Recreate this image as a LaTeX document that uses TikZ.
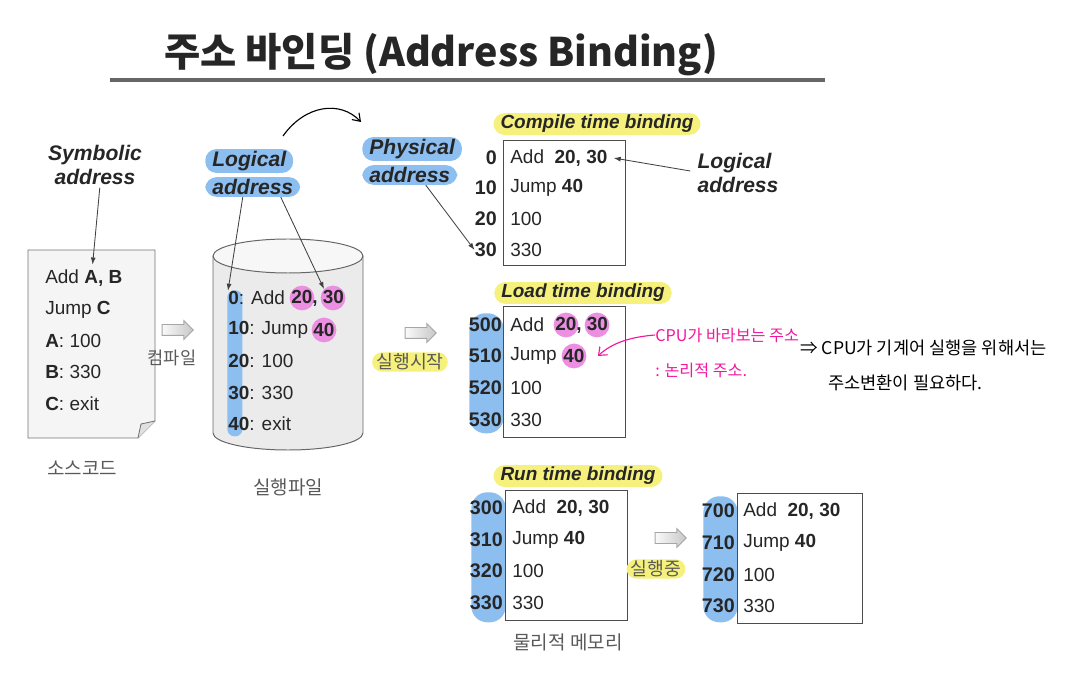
\documentclass[tikz,border=0pt]{standalone}
\usepackage{fontspec}
\setmainfont{Liberation Sans}
\newfontfamily\kr{Noto Sans CJK KR}
\usetikzlibrary{arrows.meta,positioning,shapes.arrows}

\definecolor{tagblue}{HTML}{8DBEF0}
\definecolor{tagyellow}{HTML}{F5F17C}
\definecolor{dotpink}{HTML}{EC8FE2}
\definecolor{penpink}{HTML}{F2169E}
\definecolor{inkgray}{HTML}{262626}

\tikzset{
  code/.style={anchor=west, inner sep=0pt, text=inkgray, font=\fontsize{13.5}{16}\selectfont},
  num/.style={anchor=east, inner sep=0pt, text=inkgray, font=\fontsize{14}{16}\selectfont\bfseries},
  tag/.style={inner xsep=5pt, inner ysep=1.5pt, rounded corners=8pt, text=inkgray, font=\fontsize{15}{17.7}\selectfont\bfseries\itshape},
  bluetag/.style={tag, fill=tagblue, anchor=west},
  bindtag/.style={tag, fill=tagyellow, font=\fontsize{13.5}{16}\selectfont\bfseries\itshape},
  krlabel/.style={text=black!65, font=\kr\fontsize{13.5}{16}\selectfont},
  krtag/.style={text=black!65, font=\kr\fontsize{13}{16}\selectfont, fill=tagyellow, rounded corners=7pt, inner xsep=3pt, inner ysep=1pt},
  pinkdot/.style={circle, fill=dotpink, inner sep=0pt, minimum size=0.62cm},
  membox/.style={draw=black!70, line width=0.7pt, anchor=north west, minimum width=3.05cm, minimum height=3.15cm, inner sep=0pt},
  bar/.style={fill=tagblue, anchor=north east, rounded corners=0.4cm, minimum width=0.86cm, inner sep=0pt},
  hollow/.style={single arrow, draw=black!35, line width=0.6pt, left color=black!2, right color=black!22, minimum height=0.78cm, single arrow head extend=0.1cm, single arrow head indent=0cm, inner sep=0pt},
  pointer/.style={draw=black!75, line width=0.6pt, -{Latex[length=5pt,width=3.5pt]}},
  hand/.style={inner sep=0pt, font=\kr\fontsize{12.5}{15}\selectfont}
}

\begin{document}
\begin{tikzpicture}[x=0.025cm, y=-0.025cm]
  \useasboundingbox (0,0) rectangle (1077,674);

  % title and rule
  \node[font=\kr\bfseries\fontsize{28}{32}\selectfont, text=black!85] (title) at (441,55) {주소 바인딩 (Address Binding)};
  \draw[line width=2.6pt, black!60] (110,80) -- (825,80);

  % source code page
  \filldraw[draw=black!55, fill=black!4, line width=0.6pt] (28,250) -- (155,250) -- (155,421) -- (138,438) -- (28,438) -- cycle;
  \filldraw[draw=black!55, fill=black!12, line width=0.6pt] (138,438) -- (141,424) -- (155,421);
  \node[tag, align=center] (sym) at (95,165) {Symbolic\\address};
  \node[code] (s1) at (45,278) {Add \textbf{A, B}};
  \node[code] (s2) at (45,310) {Jump \textbf{C}};
  \node[code] (s3) at (45,341) {\textbf{A}: 100};
  \node[code] (s4) at (45,372) {\textbf{B}: 330};
  \node[code] (s5) at (45,404) {\textbf{C}: exit};
  \draw[pointer] ([xshift=0.12cm]sym.south) -- ([xshift=0.22cm,yshift=0.12cm]s1.north);
  \node[krlabel] (srcname) at (82,468) {소스코드};

  \node[hollow] (h1) at (175,330) {\rule{0pt}{0.25cm}};
  \node[krlabel, font=\kr\fontsize{12.5}{15}\selectfont] (compile) at (172,358) {컴파일};

  % executable file (cylinder)
  \fill[black!8] (213,256) -- (213,433) arc[start angle=180, end angle=0, x radius=75, y radius=17] -- (363,256) -- cycle;
  \fill[black!3] (288,256) ellipse [x radius=75, y radius=17];
  \draw[black!60, line width=0.7pt] (213,256) -- (213,433) arc[start angle=180, end angle=0, x radius=75, y radius=17] -- (363,256);
  \draw[black!60, line width=0.7pt] (288,256) ellipse [x radius=75, y radius=17];
  \node[fill=tagblue, rounded corners=0.18cm, minimum width=0.38cm, minimum height=3.65cm, inner sep=0pt, anchor=north west] (ebar) at (227,290) {};
  \node[pinkdot] (e20) at (302,298) {};
  \node[pinkdot] (e30) at (333,298) {};
  \node[pinkdot] (e40) at (324,330) {};
  \node[code] (e0) at (228,298) {\textbf{0}: Add};
  \node[code] (e0v) at (291,298) {\textbf{20, 30}};
  \node[code] (e1) at (228,330) {\textbf{10}: Jump};
  \node[code] (e1v) at (313,330) {\textbf{40}};
  \node[code] (e2) at (228,361) {\textbf{20}: 100};
  \node[code] (e3) at (228,393) {\textbf{30}: 330};
  \node[code] (e4) at (228,424) {\textbf{40}: exit};
  \node[krlabel] (exename) at (288,487) {실행파일};

  \node[bluetag] (lt1) at (205,161) {Logical};
  \node[bluetag] (lt2) at (205,187) {address};
  \draw[pointer] ([xshift=-0.25cm]lt2.south) -- (e0.north west);
  \draw[pointer] ([xshift=0.7cm]lt2.south) -- (e30.north west);

  \coordinate (arcstart) at (283,136);
  \coordinate (arcend) at (361,122);
  \draw[line width=0.8pt, -{Straight Barb[length=5pt,width=7pt]}] (arcstart) .. controls (305,105) and (340,100) .. (arcend);

  \node[bluetag] (pt1) at (362,149) {Physical};
  \node[bluetag] (pt2) at (362,175) {address};

  \node[hollow] (h2) at (418,333) {\rule{0pt}{0.25cm}};
  \node[krtag] (run) at (410,362) {실행시작};

  % compile time binding
  \node[bindtag] (ctb) at (597,124) {Compile time binding};
  \node[membox, minimum height=3.12cm] (cbox) at (503,140) {};
  \foreach \y/\n/\t [count=\i] in {158/0/{Add\ \ \textbf{20, 30}},188/10/{Jump \textbf{40}},219/20/100,250/30/330}{
    \node[num] (ca\i) at (497,\y) {\n};
    \node[code] (cr\i) at (510,\y) {\t};
  }
  \draw[pointer] ([xshift=0.4cm]pt2.south) -- (ca4.west);
  \node[tag, align=left] (rlog) at (738,173) {Logical\\address};
  \draw[pointer] ([yshift=0.05cm]rlog.west) -- ([xshift=0.15cm]cr1.east);

  % load time binding
  \node[bindtag] (ltb) at (583,293) {Load time binding};
  \node[bar, minimum height=3.0cm] (lbar) at (504,313) {};
  \node[membox, minimum height=3.27cm] (lbox) at (503,306) {};
  \node[pinkdot] (l20) at (566,325) {};
  \node[pinkdot] (l30) at (597,325) {};
  \node[pinkdot] (l40) at (574,356) {};
  \foreach \y/\n/\t [count=\i] in {325/500/Add,356/510/Jump,388/520/100,420/530/330}{
    \node[num] (la\i) at (502,\y) {\n};
    \node[code] (lr\i) at (510,\y) {\t};
  }
  \node[code] (lr1v) at (555,325) {\textbf{20, 30}};
  \node[code] (lr2v) at (563,356) {\textbf{40}};

  % notes
  \node[hand, text=penpink, anchor=west, font=\kr\fontsize{11.5}{14}\selectfont] (note1) at (655,335) {CPU가 바라보는 주소};
  \node[hand, text=penpink, anchor=west, font=\kr\fontsize{11.5}{14}\selectfont] (note2) at (655,370) {: 논리적 주소.};
  \draw[penpink, line width=0.8pt, -{Straight Barb[length=5pt,width=8pt]}] (note1.west) .. controls (630,337) and (612,343) .. ([xshift=0.28cm]l40.east);
  \node[hand, anchor=west] (note3) at (800,348) {⇒ CPU가 기계어 실행을 위해서는};
  \node[hand, anchor=west] (note4) at (828,383) {주소변환이 필요하다.};

  % run time binding
  \node[bindtag] (rtb) at (578,476) {Run time binding};
  \node[bar, minimum height=3.25cm] (rbar) at (506,492) {};
  \node[membox, minimum height=3.25cm] (rbox) at (505,490) {};
  \foreach \y/\n/\t [count=\i] in {508/300/{Add\ \ \textbf{20, 30}},540/310/{Jump \textbf{40}},571/320/100,603/330/330}{
    \node[num] (ra\i) at (503,\y) {\n};
    \node[code] (rr\i) at (512,\y) {\t};
  }

  \node[hollow] (h3) at (668,538) {\rule{0pt}{0.25cm}};
  \node[krtag] (running) at (656,569) {실행중};

  \node[bar, minimum height=3.15cm] (mbar) at (738,496) {};
  \node[membox, minimum width=3.12cm, minimum height=3.25cm] (mbox) at (737,493) {};
  \foreach \y/\n/\t [count=\i] in {511/700/{Add\ \ \textbf{20, 30}},543/710/{Jump \textbf{40}},575/720/100,606/730/330}{
    \node[num] (ma\i) at (735,\y) {\n};
    \node[code] (mr\i) at (743,\y) {\t};
  }
  \node[krlabel] (memname) at (568,642) {물리적 메모리};
\end{tikzpicture}
\end{document}
